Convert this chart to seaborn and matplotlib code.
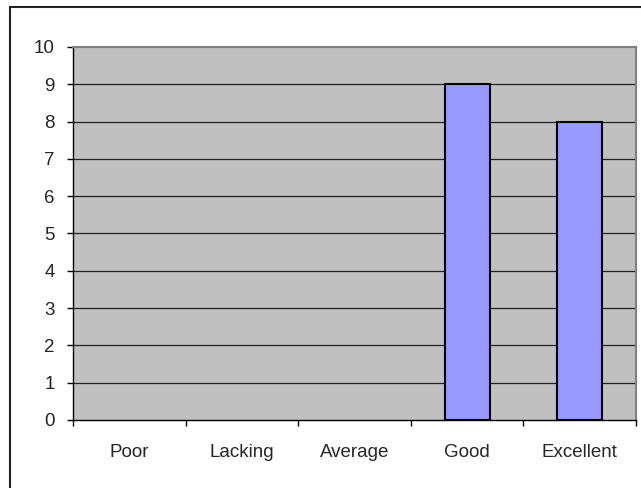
import numpy as np
import pandas as pd
import matplotlib.pyplot as plt
import seaborn as sns
from matplotlib.patches import Rectangle

categories = ["Poor", "Lacking", "Average", "Good", "Excellent"]
counts = [0, 0, 0, 9, 8]

df = pd.DataFrame({"rating": categories, "count": counts})

sns.set_style("white")
plt.rcParams["font.family"] = ["Liberation Sans", "DejaVu Sans"]

fig = plt.figure(figsize=(6.41, 4.88), dpi=100)
ax = fig.add_axes([73 / 641, 68 / 488, 563 / 641, 373 / 488])

# outer chart border (cropped on right/bottom)
fig.patches.append(Rectangle((10 / 641, -0.1), 1.2, 1.1 - 7.5 / 488,
                             transform=fig.transFigure, fill=False,
                             edgecolor="#222222", linewidth=1.5, zorder=0))

ax.set_facecolor("#C0C0C0")
sns.barplot(data=df, x="rating", y="count", order=categories, color="#9999FF",
            saturation=1, width=0.4, edgecolor="black", linewidth=1.5, ax=ax,
            zorder=3)
# empty categories show no bar outline
for p in ax.patches:
    if p.get_height() == 0:
        p.set_linewidth(0)

ax.set_xlim(-0.5, 4.5)
ax.set_ylim(0, 10)
ax.set_yticks(range(0, 11))
for y in range(1, 10):
    ax.axhline(y, color="#222222", linewidth=0.9, zorder=1)

ax.set_xticks(np.arange(-0.5, 5, 1), minor=True)
ax.tick_params(axis="x", which="major", length=0, pad=17, labelsize=13.5)
ax.tick_params(axis="x", which="minor", length=4, width=1, direction="out", color="black")
ax.tick_params(axis="y", length=4, width=1, direction="out", color="black", pad=9, labelsize=13.5)
ax.yaxis.tick_left()
ax.xaxis.tick_bottom()

for side in ["left", "bottom"]:
    ax.spines[side].set_color("black")
    ax.spines[side].set_linewidth(1)
for side in ["top", "right"]:
    ax.spines[side].set_visible(True)
    ax.spines[side].set_color("#808080")
    ax.spines[side].set_linewidth(1.5)

ax.set_xlabel("")
ax.set_ylabel("")

fig.savefig("out.png", dpi=100)
